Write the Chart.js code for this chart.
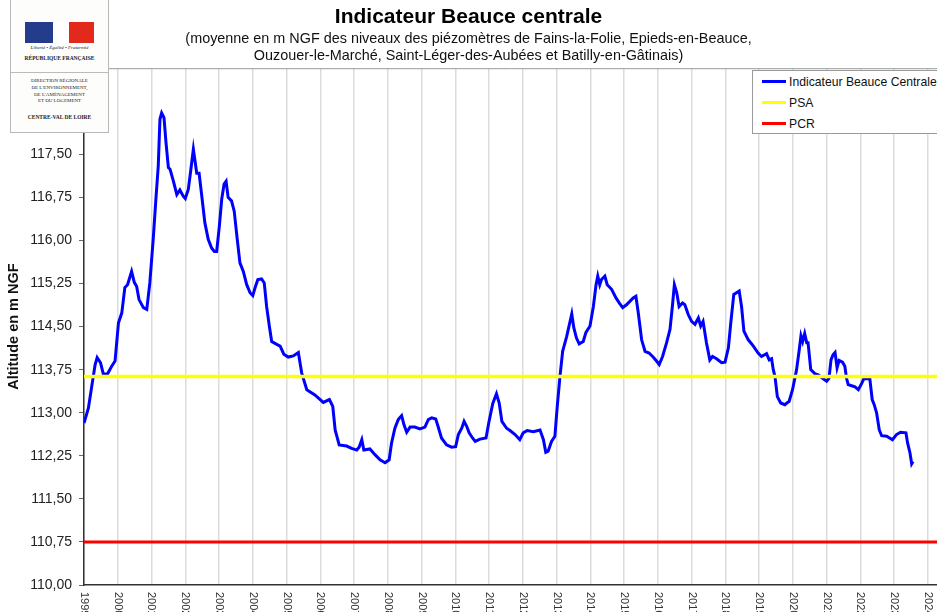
<!DOCTYPE html>
<html>
<head>
<meta charset="utf-8">
<script src="https://cdn.jsdelivr.net/npm/chart.js@4.4.1/dist/chart.umd.min.js"></script>
<style>
  html, body { margin: 0; padding: 0; background: #fff; }
  #wrap { position: relative; width: 937px; height: 612px; overflow: hidden; }
  #logo { position: absolute; left: 10px; top: -1px; width: 97px; height: 132px;
          border: 1px solid #b8b8b8; background: #fdfdfb; font-family: "Liberation Serif", serif; color: #222; }
  #logo .t { position: absolute; left: 0; width: 97px; text-align: center; white-space: nowrap; }
  #legend { position: absolute; left: 752px; top: 70px; width: 190px; height: 62px;
            border: 1px solid #9a9a9a; background: #fff; font-family: "Liberation Sans", Arial, sans-serif; }
  #legend .row { position: absolute; left: 9px; height: 16px; font-size: 12.2px; color: #111; line-height: 16px; white-space: nowrap; }
  #legend .sw { display: inline-block; width: 24px; height: 3px; vertical-align: middle; margin-right: 3px; position: relative; top: -1px; }
</style>
</head>
<body>
<div id="wrap">
  <canvas id="chart" width="937" height="612"></canvas>

  <div id="logo">
    <div style="position:absolute;left:14px;top:22px;width:28px;height:21px;background:#233d8c;"></div>
    <div style="position:absolute;left:42px;top:22px;width:16px;height:21px;background:#fff;"></div>
    <div style="position:absolute;left:58px;top:22px;width:25px;height:21px;background:#e3281c;"></div>
    <div class="t" style="top:45px;font-size:5px;font-style:italic;">Liberté • Égalité • Fraternité</div>
    <div class="t" style="top:55px;font-size:5.5px;font-weight:bold;">RÉPUBLIQUE FRANÇAISE</div>
    <div style="position:absolute;left:0;top:72px;width:97px;height:1px;background:#bbb;"></div>
    <div class="t" style="top:78px;font-size:5px;">DIRECTION RÉGIONALE</div>
    <div class="t" style="top:85px;font-size:5px;">DE L'ENVIRONNEMENT,</div>
    <div class="t" style="top:92px;font-size:5px;">DE L'AMÉNAGEMENT</div>
    <div class="t" style="top:98px;font-size:5px;">ET DU LOGEMENT</div>
    <div class="t" style="top:114px;font-size:5.5px;font-weight:bold;">CENTRE-VAL DE LOIRE</div>
  </div>

  <div id="legend">
    <div class="row" style="top:3px;"><span class="sw" style="background:#0000ff;"></span>Indicateur Beauce Centrale</div>
    <div class="row" style="top:24px;"><span class="sw" style="background:#ffff00;"></span>PSA</div>
    <div class="row" style="top:45px;"><span class="sw" style="background:#ff0000;"></span>PCR</div>
  </div>
</div>

<script>
// Données (dates en années décimales, niveaux en m NGF)

const dates = [
  1999.00, 1999.13, 1999.23, 1999.33, 1999.39, 1999.49, 1999.57, 1999.69, 1999.82, 1999.92,
  2000.02, 2000.12, 2000.21, 2000.29, 2000.41, 2000.49, 2000.56, 2000.63, 2000.76, 2000.86, 2000.95,
  2001.05, 2001.13, 2001.20, 2001.25, 2001.30, 2001.37, 2001.43, 2001.50, 2001.55, 2001.65, 2001.75, 2001.84, 2001.94,
  2002.00, 2002.09, 2002.16, 2002.24, 2002.29, 2002.34, 2002.41, 2002.49, 2002.58, 2002.68, 2002.78, 2002.86, 2002.93,
  2003.01, 2003.08, 2003.15, 2003.21, 2003.27, 2003.37, 2003.45, 2003.54, 2003.62, 2003.72, 2003.82, 2003.92,
  2004.00, 2004.07, 2004.15, 2004.26, 2004.34, 2004.41, 2004.49, 2004.56, 2004.71, 2004.81, 2004.92,
  2005.05, 2005.20, 2005.35, 2005.45, 2005.60, 2005.84,
  2006.09, 2006.27, 2006.37, 2006.44, 2006.56, 2006.78, 2006.93,
  2007.08, 2007.15, 2007.23, 2007.29, 2007.47, 2007.62, 2007.77, 2007.92,
  2008.04, 2008.11, 2008.21, 2008.31, 2008.41, 2008.48, 2008.56, 2008.66, 2008.80, 2008.95,
  2009.10, 2009.20, 2009.30, 2009.42, 2009.49, 2009.59, 2009.74, 2009.89,
  2010.01, 2010.09, 2010.19, 2010.26, 2010.34, 2010.41, 2010.51, 2010.59, 2010.73, 2010.91, 2010.99,
  2011.11, 2011.22, 2011.30, 2011.38, 2011.52, 2011.62, 2011.77, 2011.91,
  2012.01, 2012.13, 2012.31, 2012.51, 2012.61, 2012.68, 2012.75, 2012.85, 2012.95,
  2013.02, 2013.10, 2013.18, 2013.30, 2013.38, 2013.45, 2013.51, 2013.59, 2013.67, 2013.79, 2013.87, 2013.99,
  2014.09, 2014.17, 2014.22, 2014.28, 2014.33, 2014.43, 2014.50, 2014.63, 2014.76, 2014.86, 2014.96,
  2015.07, 2015.17, 2015.27, 2015.35, 2015.42, 2015.52, 2015.62, 2015.74, 2015.86, 2015.96,
  2016.04, 2016.14, 2016.26, 2016.36, 2016.43, 2016.49, 2016.56, 2016.63, 2016.73, 2016.80, 2016.90,
  2017.00, 2017.10, 2017.20, 2017.27, 2017.34, 2017.44, 2017.54, 2017.62, 2017.74, 2017.89, 2017.99,
  2018.09, 2018.16, 2018.25, 2018.33, 2018.41, 2018.48, 2018.55, 2018.68, 2018.83, 2018.97,
  2019.07, 2019.22, 2019.30, 2019.37, 2019.42, 2019.47, 2019.54, 2019.64, 2019.76, 2019.89, 2019.99,
  2020.11, 2020.19, 2020.24, 2020.29, 2020.35, 2020.41, 2020.45, 2020.53, 2020.65, 2020.75, 2020.88,
  2021.00, 2021.07, 2021.13, 2021.19, 2021.25, 2021.31, 2021.37, 2021.47, 2021.54, 2021.59, 2021.64, 2021.74, 2021.84, 2021.94,
  2022.04, 2022.10, 2022.28, 2022.35, 2022.41, 2022.48, 2022.56, 2022.63, 2022.78, 2022.95,
  2023.07, 2023.19, 2023.35, 2023.40, 2023.47, 2023.52, 2023.56
];

const niveaux = [
  112.82, 113.08, 113.46, 113.84, 113.96, 113.87, 113.68, 113.67, 113.81, 113.90,
  114.56, 114.74, 115.18, 115.23, 115.46, 115.27, 115.20, 114.97, 114.83, 114.80, 115.26,
  116.02, 116.72, 117.30, 118.11, 118.22, 118.14, 117.70, 117.27, 117.24, 117.03, 116.80, 116.88, 116.77,
  116.73, 116.89, 117.21, 117.59, 117.38, 117.17, 117.17, 116.77, 116.31, 116.02, 115.87, 115.81, 115.81,
  116.25, 116.72, 116.98, 117.03, 116.75, 116.69, 116.51, 116.02, 115.61, 115.46, 115.23, 115.09,
  115.04, 115.18, 115.32, 115.33, 115.26, 114.85, 114.51, 114.24, 114.19, 114.16, 114.02,
  113.97, 113.99, 114.05, 113.69, 113.40, 113.31,
  113.18, 113.23, 113.11, 112.70, 112.44, 112.42, 112.38,
  112.35, 112.40, 112.53, 112.35, 112.37, 112.27, 112.18, 112.13,
  112.18, 112.47, 112.73, 112.88, 112.95, 112.79, 112.66, 112.75, 112.75, 112.72,
  112.75, 112.88, 112.91, 112.89, 112.76, 112.56, 112.44, 112.40,
  112.41, 112.62, 112.73, 112.85, 112.76, 112.65, 112.56, 112.50, 112.54, 112.56, 112.82,
  113.16, 113.33, 113.17, 112.85, 112.73, 112.69, 112.62, 112.53,
  112.65, 112.69, 112.67, 112.70, 112.53, 112.31, 112.33, 112.50, 112.59,
  113.11, 113.63, 114.07, 114.33, 114.54, 114.72, 114.48, 114.30, 114.20, 114.24, 114.40, 114.51,
  114.85, 115.23, 115.38, 115.23, 115.32, 115.38, 115.23, 115.15, 115.00, 114.91, 114.83,
  114.88, 114.94, 115.00, 115.03, 114.74, 114.27, 114.07, 114.04, 113.97, 113.90,
  113.84, 113.98, 114.22, 114.45, 114.85, 115.23, 115.09, 114.85, 114.91, 114.88, 114.71,
  114.59, 114.54, 114.65, 114.51, 114.59, 114.22, 113.92, 113.98, 113.94, 113.87, 113.88,
  114.13, 114.56, 115.06, 115.09, 115.12, 114.85, 114.42, 114.27, 114.16, 114.04,
  113.98, 114.03, 113.92, 113.94, 113.75, 113.63, 113.28, 113.17, 113.14, 113.20, 113.40,
  113.75, 114.10, 114.34, 114.24, 114.38, 114.22, 114.22, 113.75, 113.68, 113.66, 113.60,
  113.55, 113.60, 113.92, 114.01, 114.05, 113.78, 113.91, 113.88, 113.81, 113.60, 113.49, 113.47, 113.45, 113.40,
  113.51, 113.59, 113.59, 113.23, 113.14, 113.00, 112.70, 112.60, 112.59, 112.53,
  112.62, 112.66, 112.65, 112.47, 112.30, 112.11, 112.15
];

const seuilPSA = 113.63;
const seuilPCR = 110.75;

const annees = [1999, 2000, 2001, 2002, 2003, 2004, 2005, 2006, 2007, 2008, 2009, 2010, 2011,
                2012, 2013, 2014, 2015, 2016, 2017, 2018, 2019, 2020, 2021, 2022, 2023, 2024];
const yTicks = [110.00, 110.75, 111.50, 112.25, 113.00, 113.75, 114.50, 115.25, 116.00, 116.75, 117.50, 118.25, 119.00];

const xMin = 1999;
const xMax = 2024.27;

const police = '"Liberation Sans", Arial, sans-serif';

// Libellés des années (verticaux, lus de haut en bas) + bordure haute

const extras = {
  id: 'extras',
  afterDraw(chart) {
    const ctx = chart.ctx;
    const sx = chart.scales.x;
    const area = chart.chartArea;
    ctx.save();
    ctx.strokeStyle = '#9a9a9a';
    ctx.lineWidth = 1;
    ctx.beginPath();
    ctx.moveTo(area.left, area.top + 0.5);
    ctx.lineTo(area.right, area.top + 0.5);
    ctx.stroke();

    ctx.font = '11px ' + police;
    ctx.fillStyle = '#333';
    annees.forEach(a => {
      const px = sx.getPixelForValue(a);
      ctx.save();
      ctx.translate(px, area.bottom + 7);
      ctx.rotate(Math.PI / 2);
      ctx.textAlign = 'left';
      ctx.textBaseline = 'middle';
      ctx.fillText(String(a), 0, 0);
      ctx.restore();
    });
    ctx.restore();
  }
};

const config = {
  type: 'line',
  data: {
    datasets: [
      {
        label: 'Indicateur Beauce Centrale',
        data: dates.map((d, i) => ({ x: d, y: niveaux[i] })),
        borderColor: '#0000ff',
        borderWidth: 3,
        pointRadius: 0,
        tension: 0,
        order: 2
      },
      {
        label: 'PSA',
        data: [{ x: xMin, y: seuilPSA }, { x: xMax, y: seuilPSA }],
        borderColor: '#ffff00',
        borderWidth: 3.5,
        pointRadius: 0,
        order: 1
      },
      {
        label: 'PCR',
        data: [{ x: xMin, y: seuilPCR }, { x: xMax, y: seuilPCR }],
        borderColor: '#ff0000',
        borderWidth: 3,
        pointRadius: 0,
        order: 1
      }
    ]
  },
  options: {
    responsive: false,
    animation: false,
    layout: { padding: { left: 0, right: 0, top: 0, bottom: 0 } },
    plugins: {
      legend: { display: false },
      tooltip: { enabled: false },
      title: {
        display: true,
        text: 'Indicateur Beauce centrale',
        color: '#000',
        font: { family: police, size: 21, weight: 'bold', lineHeight: 1.2 },
        padding: { top: 5, bottom: 0 }
      },
      subtitle: {
        display: true,
        text: ['(moyenne en m NGF des niveaux des piézomètres de Fains-la-Folie, Epieds-en-Beauce,',
               'Ouzouer-le-Marché, Saint-Léger-des-Aubées et Batilly-en-Gâtinais)'],
        color: '#111',
        font: { family: police, size: 14.4, lineHeight: '17px' },
        padding: { top: 0, bottom: 4 }
      }
    },
    scales: {
      x: {
        type: 'linear',
        min: xMin,
        max: xMax,
        afterBuildTicks: s => { s.ticks = annees.map(v => ({ value: v })); },
        afterFit: s => { s.height = 27; },
        ticks: { display: false },
        grid: { color: '#dcdcdc', lineWidth: 1.5, drawTicks: false },
        border: { color: '#333', width: 1.5 }
      },
      y: {
        min: 110,
        max: 119,
        afterBuildTicks: s => { s.ticks = yTicks.map(v => ({ value: v })); },
        afterFit: s => { s.width = 84; },
        ticks: {
          color: '#222',
          font: { family: police, size: 14 },
          padding: 7,
          callback: v => v.toFixed(2).replace('.', ',')
        },
        grid: { drawOnChartArea: false, tickLength: 5, color: '#666' },
        border: { color: '#333', width: 1.5 },
        title: {
          display: true,
          text: 'Altitude en m NGF',
          color: '#111',
          font: { family: police, size: 14.5, weight: 'bold', lineHeight: 1.2 },
          padding: { top: 5, bottom: 0 }
        }
      }
    }
  },
  plugins: [extras]
};

const ctx = document.getElementById('chart').getContext('2d');
const chart = new Chart(ctx, config);
</script>
</body>
</html>
